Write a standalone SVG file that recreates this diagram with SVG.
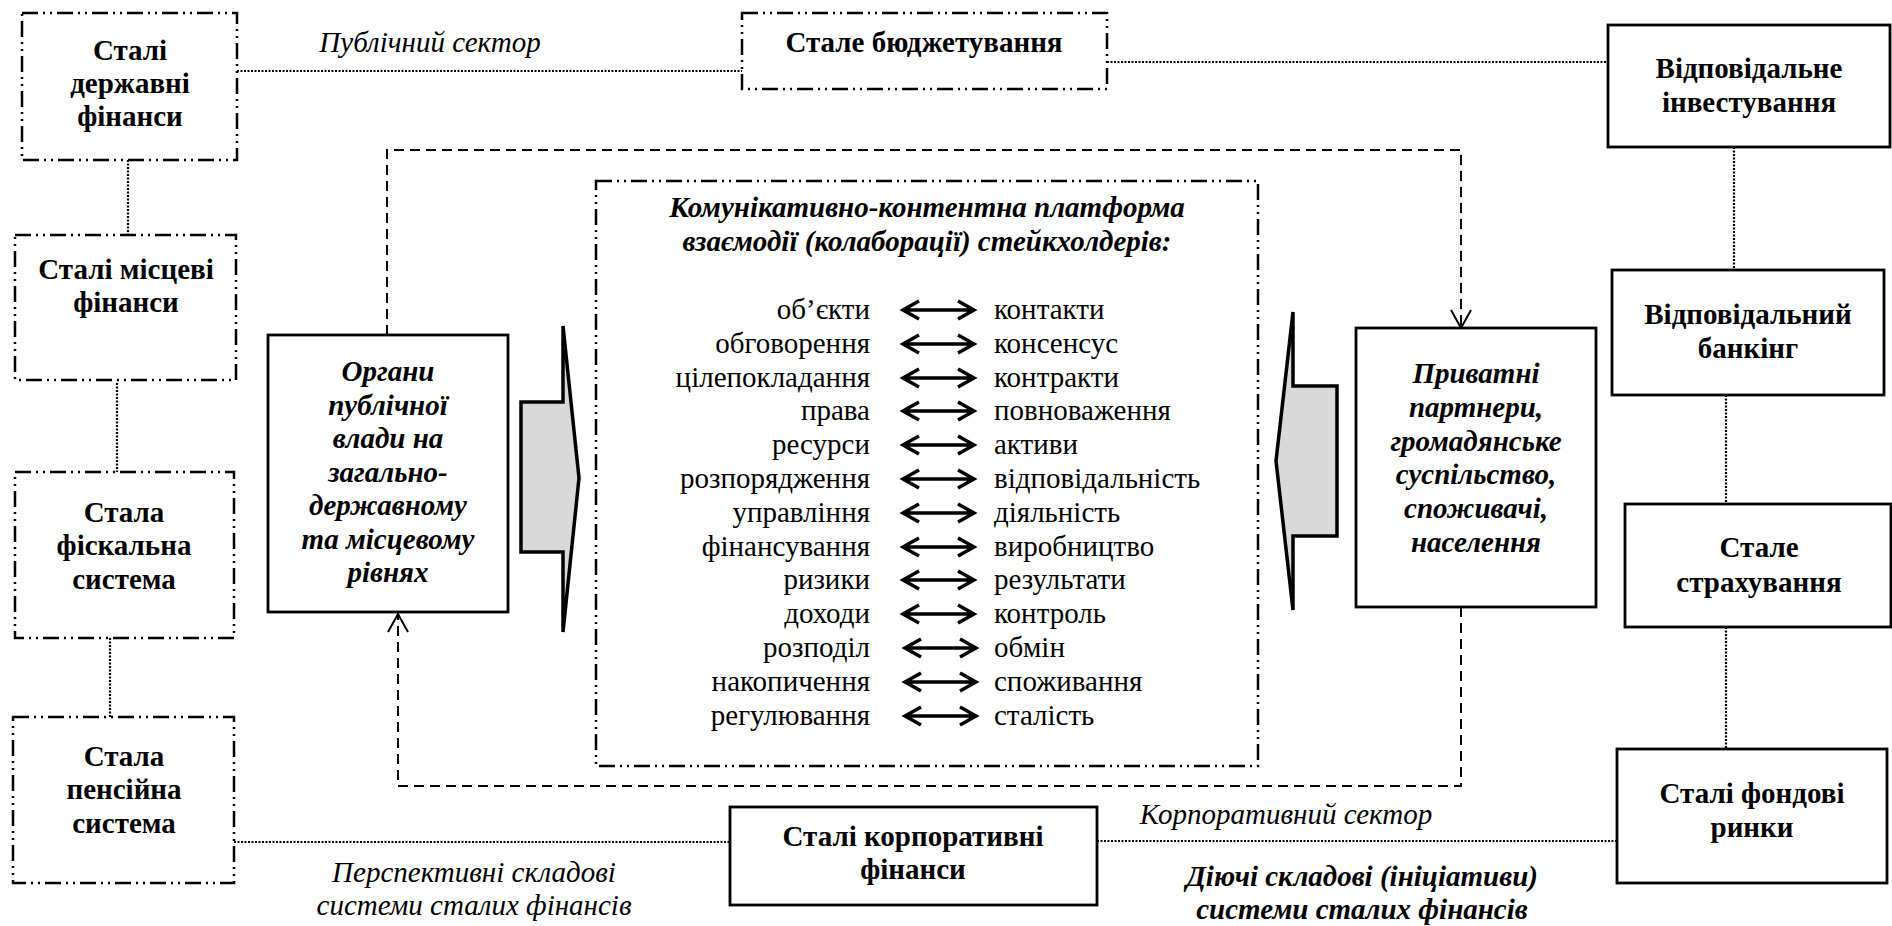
<svg xmlns="http://www.w3.org/2000/svg" xmlns:xlink="http://www.w3.org/1999/xlink" width="1892" height="926" viewBox="0 0 1892 926" font-family="Liberation Serif" font-size="29">
<style>
text{font-family:'Liberation Serif','Times New Roman',serif;font-size:29px;fill:#000}
.b{font-weight:bold}
.i{font-style:italic}
.c{text-anchor:middle}
.r{text-anchor:end}
.dd{fill:#fff;stroke:#000;stroke-width:2.5;stroke-dasharray:16 5 2 5 2 5}
.sol{fill:#fff;stroke:#000;stroke-width:2.8}
.dot{fill:none;stroke:#000;stroke-width:2.2;stroke-dasharray:2 1.5}
.dash{fill:none;stroke:#000;stroke-width:2;stroke-dasharray:10 6}
.ah{fill:none;stroke:#000;stroke-width:2}
.big{fill:#d9d9d9;stroke:#000;stroke-width:3.5;stroke-linejoin:miter}
.dbl{fill:none;stroke:#000;stroke-width:3.5}
</style>
<defs>
<g id="dblarrow">
<path class="dbl" d="M903,0 H974 M919,-9 L903,0 L919,9 M958,-9 L974,0 L958,9"/>
</g>
</defs>
<rect width="1892" height="926" fill="#fff"/>

<g id="connectors">
<path class="dot" d="M237,71 H742"/>
<path class="dot" d="M1107,62 H1608"/>
<path class="dot" d="M128,160 V235"/>
<path class="dot" d="M117,383 V472"/>
<path class="dot" d="M110,638 V717"/>
<path class="dot" d="M234,842 H730"/>
<path class="dot" d="M1097,841 H1617"/>
<path class="dot" d="M1734,147 V270"/>
<path class="dot" d="M1726,395 V504"/>
<path class="dot" d="M1726,627 V749"/>
<path class="dash" d="M387,335 V150 H1461 V327"/>
<path class="ah" d="M1451,310 L1461,328 L1471,310"/>
<path class="dash" d="M1461,607 V786 H398 V616"/>
<path class="ah" d="M388,632 L398,614 L408,632"/>
</g>

<g id="n-derzh">
<rect class="dd" x="22" y="13" width="215" height="147"/>
<text class="b c" x="130" y="60">Сталі</text>
<text class="b c" x="130" y="93">державні</text>
<text class="b c" x="130" y="126">фінанси</text>
</g>
<g id="n-mistsevi">
<rect class="dd" x="15" y="235" width="221" height="145"/>
<text class="b c" x="126" y="279">Сталі місцеві</text>
<text class="b c" x="126" y="312">фінанси</text>
</g>
<g id="n-fiskalna">
<rect class="dd" x="15" y="472" width="219" height="166"/>
<text class="b c" x="124" y="522">Стала</text>
<text class="b c" x="124" y="555">фіскальна</text>
<text class="b c" x="124" y="589">система</text>
</g>
<g id="n-pensiyna">
<rect class="dd" x="13" y="717" width="221" height="166"/>
<text class="b c" x="124" y="766">Стала</text>
<text class="b c" x="124" y="799">пенсійна</text>
<text class="b c" x="124" y="833">система</text>
</g>
<g id="n-budzhet">
<rect class="dd" x="742" y="13" width="365" height="76"/>
<text class="b c" x="924" y="52">Стале бюджетування</text>
</g>
<g id="n-invest">
<rect class="sol" x="1608" y="25" width="282" height="122"/>
<text class="b c" x="1749" y="78">Відповідальне</text>
<text class="b c" x="1749" y="112">інвестування</text>
</g>
<g id="n-bank">
<rect class="sol" x="1612" y="270" width="272" height="125"/>
<text class="b c" x="1748" y="324">Відповідальний</text>
<text class="b c" x="1748" y="358">банкінг</text>
</g>
<g id="n-strakh">
<rect class="sol" x="1625" y="504" width="266" height="123"/>
<text class="b c" x="1759" y="557">Стале</text>
<text class="b c" x="1759" y="592">страхування</text>
</g>
<g id="n-fond">
<rect class="sol" x="1617" y="749" width="270" height="134"/>
<text class="b c" x="1752" y="803">Сталі фондові</text>
<text class="b c" x="1752" y="837">ринки</text>
</g>
<g id="n-korp">
<rect class="sol" x="730" y="807" width="367" height="98"/>
<text class="b c" x="913" y="846">Сталі корпоративні</text>
<text class="b c" x="913" y="879">фінанси</text>
</g>

<g id="n-organy">
<rect class="sol" x="268" y="335" width="240" height="277"/>
<text class="b i c" x="388" y="381">Органи</text>
<text class="b i c" x="388" y="415">публічної</text>
<text class="b i c" x="388" y="448">влади на</text>
<text class="b i c" x="388" y="482">загально-</text>
<text class="b i c" x="388" y="515">державному</text>
<text class="b i c" x="388" y="549">та місцевому</text>
<text class="b i c" x="388" y="582">рівнях</text>
</g>
<g id="n-pryvatni">
<rect class="sol" x="1356" y="328" width="240" height="279"/>
<text class="b i c" x="1476" y="383">Приватні</text>
<text class="b i c" x="1476" y="417">партнери,</text>
<text class="b i c" x="1476" y="451">громадянське</text>
<text class="b i c" x="1476" y="484">суспільство,</text>
<text class="b i c" x="1476" y="518">споживачі,</text>
<text class="b i c" x="1476" y="552">населення</text>
</g>

<g id="arrow-right">
<path class="big" d="M521,402 H563 V326 L579,478 L563,632 V552 H521 Z"/>
</g>
<g id="arrow-left">
<path class="big" d="M1337,386 H1293 V312 L1276,461 L1293,610 V536 H1337 Z"/>
</g>

<g id="n-platform">
<rect class="dd" x="596" y="181" width="662" height="585"/>
<text class="b i c" x="927" y="217">Комунікативно-контентна платформа</text>
<text class="b i c" x="927" y="251">взаємодії (колаборації) стейкхолдерів:</text>
<text class="r" x="870" y="319">об’єкти</text>
<text class="r" x="870" y="353">обговорення</text>
<text class="r" x="870" y="387">цілепокладання</text>
<text class="r" x="870" y="420">права</text>
<text class="r" x="870" y="454">ресурси</text>
<text class="r" x="870" y="488">розпорядження</text>
<text class="r" x="870" y="522">управління</text>
<text class="r" x="870" y="556">фінансування</text>
<text class="r" x="870" y="589">ризики</text>
<text class="r" x="870" y="623">доходи</text>
<text class="r" x="870" y="657">розподіл</text>
<text class="r" x="870" y="691">накопичення</text>
<text class="r" x="870" y="725">регулювання</text>
<text x="994" y="319">контакти</text>
<text x="994" y="353">консенсус</text>
<text x="994" y="387">контракти</text>
<text x="994" y="420">повноваження</text>
<text x="994" y="454">активи</text>
<text x="994" y="488">відповідальність</text>
<text x="994" y="522">діяльність</text>
<text x="994" y="556">виробництво</text>
<text x="994" y="589">результати</text>
<text x="994" y="623">контроль</text>
<text x="994" y="657">обмін</text>
<text x="994" y="691">споживання</text>
<text x="994" y="725">сталість</text>
<use xlink:href="#dblarrow" y="310"/>
<use xlink:href="#dblarrow" y="344"/>
<use xlink:href="#dblarrow" y="378"/>
<use xlink:href="#dblarrow" y="411"/>
<use xlink:href="#dblarrow" y="445"/>
<use xlink:href="#dblarrow" y="479"/>
<use xlink:href="#dblarrow" y="513"/>
<use xlink:href="#dblarrow" y="547"/>
<use xlink:href="#dblarrow" y="580"/>
<use xlink:href="#dblarrow" y="614"/>
<use xlink:href="#dblarrow" x="2" y="648"/>
<use xlink:href="#dblarrow" x="2" y="682"/>
<use xlink:href="#dblarrow" x="2" y="716"/>
</g>

<g id="labels">
<text class="i c" x="430" y="52">Публічний сектор</text>
<text class="i c" x="1286" y="824">Корпоративний сектор</text>
<text class="i c" x="474" y="882">Перспективні складові</text>
<text class="i c" x="474" y="915">системи сталих фінансів</text>
<text class="b i c" x="1362" y="886">Діючі складові (ініціативи)</text>
<text class="b i c" x="1362" y="919">системи сталих фінансів</text>
</g>
</svg>
